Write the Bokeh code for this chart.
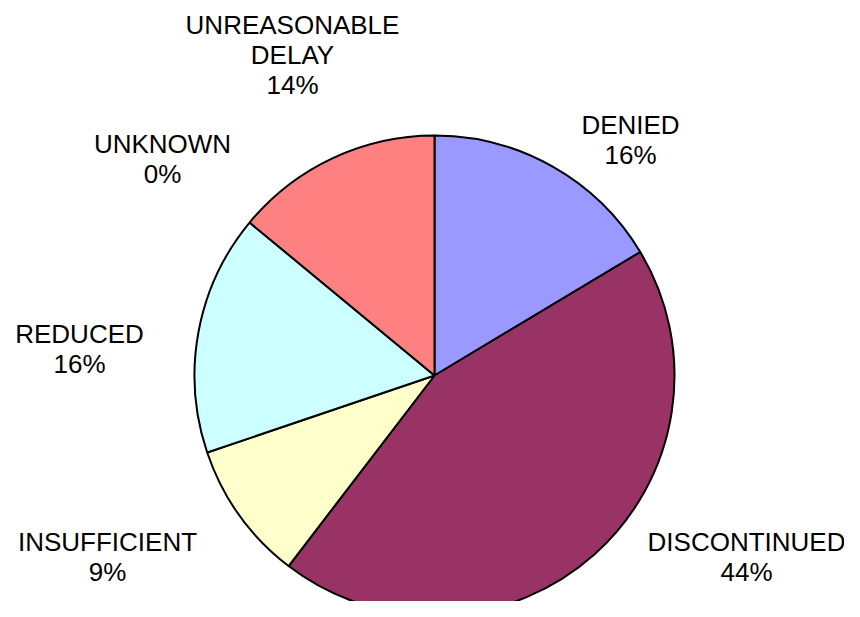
import numpy as np
from bokeh.plotting import figure
from bokeh.models import ColumnDataSource, Range1d
from bokeh.core.properties import value
from bokeh.embed import file_html
from bokeh.resources import INLINE

# ---- data ----
categories = ["DENIED", "DISCONTINUED", "INSUFFICIENT", "REDUCED", "UNKNOWN", "UNREASONABLE\nDELAY"]
shares = [16.4, 44.0, 9.4, 16.2, 0.0, 14.0]
colors = ["#9999FF", "#993366", "#FFFFCC", "#CCFFFF", "#660066", "#FF8080"]

# ---- label placement (pixel offsets from pie centre, y up) ----
label_dx = [196, 312, -327, -355, -272, -142]
label_dy = [236, -181, -181, 27, 217, 321]

W, H = 844, 601
CX, CY = 434, 375   # pie centre in picture pixels
R = 240

vals = np.array(shares, dtype=float)
frac = vals / vals.sum()
cum_end = np.cumsum(frac)
cum_start = cum_end - frac
start_angle = np.pi / 2 - 2 * np.pi * cum_start
end_angle = np.pi / 2 - 2 * np.pi * cum_end

keep = vals > 0   # a zero-width wedge would be drawn as a full disc
src = ColumnDataSource(dict(
    cat=[c for c, k in zip(categories, keep) if k],
    color=[c for c, k in zip(colors, keep) if k],
    start=start_angle[keep], end=end_angle[keep],
))

p = figure(width=W, height=H, output_backend="svg", toolbar_location=None,
           x_range=Range1d(-CX, W - CX), y_range=Range1d(CY - H, CY),
           min_border=0, outline_line_color=None, background_fill_color="white",
           border_fill_color="white")
p.axis.visible = False
p.grid.visible = False

p.wedge(x=0, y=0, radius=R, start_angle="start", end_angle="end", direction="clock",
        fill_color="color", line_color="black", line_width=2, source=src)

texts = [f"{c}\n{int(round(v))}%" for c, v in zip(categories, shares)]
lsrc = ColumnDataSource(dict(x=label_dx, y=label_dy, t=texts))
p.text(x="x", y="y", text="t", source=lsrc, text_align="center", text_baseline="middle",
       text_font=value("Liberation Sans"), text_font_size="26px", text_color="black",
       text_line_height=1.0)

open("out.html", "w").write(file_html(p, INLINE))
